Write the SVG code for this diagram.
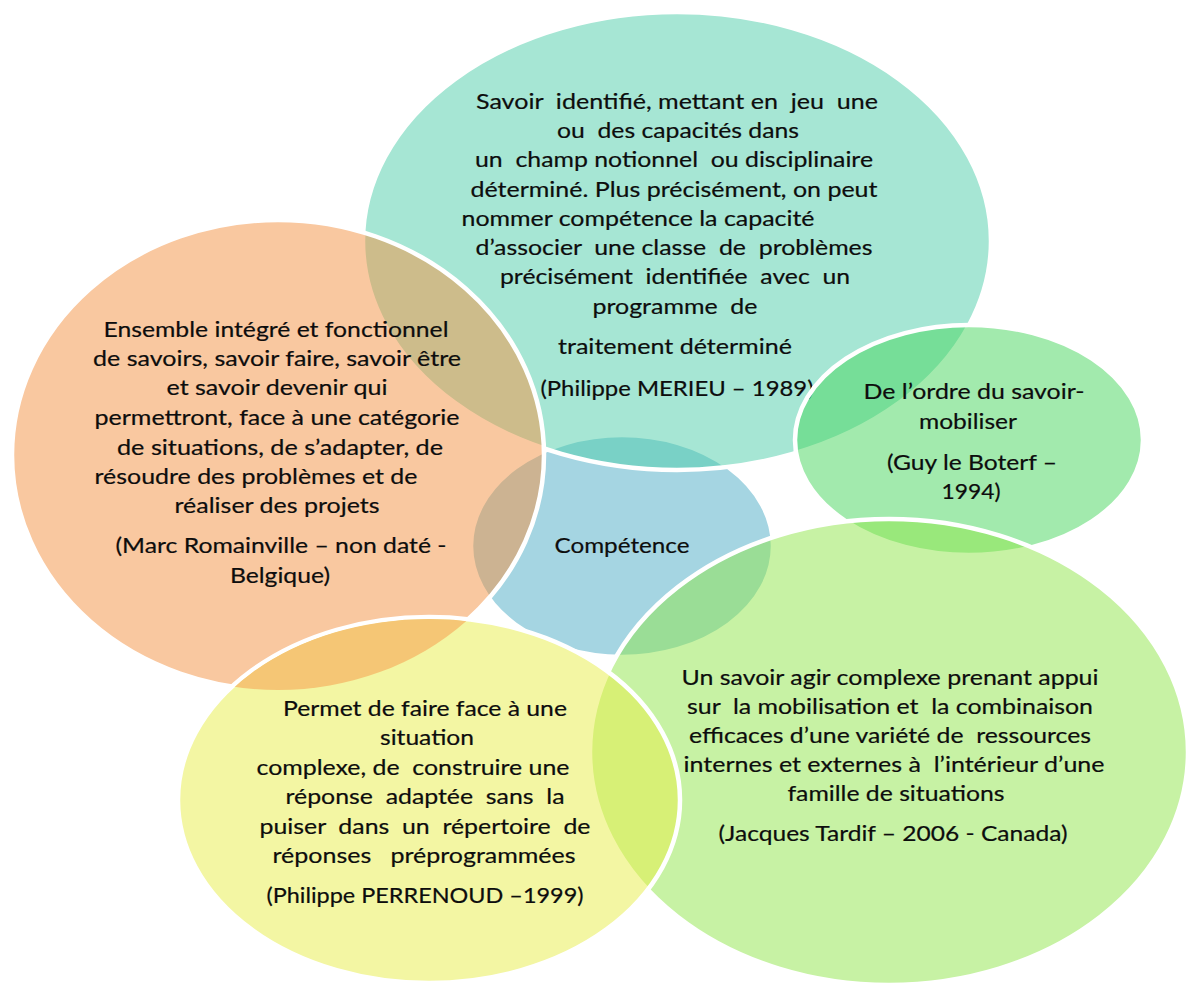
<svg xmlns="http://www.w3.org/2000/svg" width="1188" height="985" viewBox="0 0 1188 985">
<style>
.bub{stroke:#ffffff;stroke-width:4.5;fill-opacity:0.5}
.t{font-family:Lato,"Liberation Sans",sans-serif;font-size:22px;fill:#0d0d0d;stroke:#0d0d0d;stroke-width:0.2;text-anchor:middle}
</style>
<defs>
<clipPath id="clipOrange"><ellipse cx="278" cy="455" rx="266" ry="235"/></clipPath>
</defs>
<rect width="1188" height="985" fill="#ffffff"/>
<g id="competence">
<ellipse class="bub" cx="622" cy="546" rx="151" ry="111" fill="#4BABC5"/>
<text class="t" x="622" y="553" textLength="135" lengthAdjust="spacingAndGlyphs">Compétence</text>
</g>
<g id="meirieu">
<ellipse class="bub" cx="677" cy="241" rx="314" ry="229" fill="#4DCDA9"/>
<text class="t" xml:space="preserve" x="677" y="109" textLength="402" lengthAdjust="spacingAndGlyphs">Savoir  identifié, mettant en  jeu  une</text>
<text class="t" xml:space="preserve" x="678" y="138" textLength="242" lengthAdjust="spacingAndGlyphs">ou  des capacités dans</text>
<text class="t" xml:space="preserve" x="674" y="167" textLength="398" lengthAdjust="spacingAndGlyphs">un  champ notionnel  ou disciplinaire</text>
<text class="t" x="674" y="197" textLength="407" lengthAdjust="spacingAndGlyphs">déterminé. Plus précisément, on peut</text>
<text class="t" x="638" y="226" textLength="353" lengthAdjust="spacingAndGlyphs">nommer compétence la capacité</text>
<text class="t" xml:space="preserve" x="674" y="255" textLength="397" lengthAdjust="spacingAndGlyphs">d’associer  une classe  de  problèmes</text>
<text class="t" xml:space="preserve" x="675" y="284" textLength="350" lengthAdjust="spacingAndGlyphs">précisément  identifiée  avec  un</text>
<text class="t" xml:space="preserve" x="675" y="314" textLength="165" lengthAdjust="spacingAndGlyphs">programme  de</text>
<text class="t" x="675" y="354" textLength="234" lengthAdjust="spacingAndGlyphs">traitement déterminé</text>
<text class="t" x="677" y="396" textLength="273" lengthAdjust="spacingAndGlyphs">(Philippe MERIEU – 1989)</text>
</g>
<g id="boterf">
<ellipse class="bub" cx="969" cy="440" rx="174" ry="115" fill="#45D55B"/>
<text class="t" x="974" y="399" textLength="221" lengthAdjust="spacingAndGlyphs">De l’ordre du savoir-</text>
<text class="t" x="968" y="429" textLength="98" lengthAdjust="spacingAndGlyphs">mobiliser</text>
<text class="t" x="972" y="470" textLength="170" lengthAdjust="spacingAndGlyphs">(Guy le Boterf –</text>
<text class="t" x="971" y="499" textLength="59" lengthAdjust="spacingAndGlyphs">1994)</text>
</g>
<g id="tardif">
<ellipse class="bub" cx="889" cy="752" rx="299" ry="233" fill="#8FE549"/>
<text class="t" x="890" y="685" textLength="417" lengthAdjust="spacingAndGlyphs">Un savoir agir complexe prenant appui</text>
<text class="t" xml:space="preserve" x="890" y="714" textLength="406" lengthAdjust="spacingAndGlyphs">sur  la mobilisation et  la combinaison</text>
<text class="t" xml:space="preserve" x="890" y="743" textLength="402" lengthAdjust="spacingAndGlyphs">efficaces d’une variété de  ressources</text>
<text class="t" xml:space="preserve" x="894" y="772" textLength="421" lengthAdjust="spacingAndGlyphs">internes et externes à  l’intérieur d’une</text>
<text class="t" x="896" y="801" textLength="217" lengthAdjust="spacingAndGlyphs">famille de situations</text>
<text class="t" x="893" y="841" textLength="349" lengthAdjust="spacingAndGlyphs">(Jacques Tardif – 2006 - Canada)</text>
</g>
<g id="romainville">
<ellipse class="bub" cx="278" cy="455" rx="266" ry="235" fill="#F39141"/>
<text class="t" x="276" y="337" textLength="345" lengthAdjust="spacingAndGlyphs">Ensemble intégré et fonctionnel</text>
<text class="t" x="277" y="366" textLength="368" lengthAdjust="spacingAndGlyphs">de savoirs, savoir faire, savoir être</text>
<text class="t" x="277" y="395" textLength="221" lengthAdjust="spacingAndGlyphs">et savoir devenir qui</text>
<text class="t" x="277" y="425" textLength="365" lengthAdjust="spacingAndGlyphs">permettront, face à une catégorie</text>
<text class="t" x="280" y="455" textLength="326" lengthAdjust="spacingAndGlyphs">de situations, de s’adapter, de</text>
<text class="t" x="256" y="484" textLength="323" lengthAdjust="spacingAndGlyphs">résoudre des problèmes et de</text>
<text class="t" x="277" y="513" textLength="205" lengthAdjust="spacingAndGlyphs">réaliser des projets</text>
<text class="t" x="281" y="553" textLength="331" lengthAdjust="spacingAndGlyphs">(Marc Romainville – non daté -</text>
<text class="t" x="280" y="583" textLength="100" lengthAdjust="spacingAndGlyphs">Belgique)</text>
</g>
<g id="perrenoud">
<ellipse class="bub" cx="429" cy="800" rx="251" ry="183" fill="#E7ED47"/>
<ellipse cx="429" cy="800" rx="249" ry="181" fill="#F5C675" clip-path="url(#clipOrange)"/>
<text class="t" x="425" y="716" textLength="284" lengthAdjust="spacingAndGlyphs">Permet de faire face à une</text>
<text class="t" x="427" y="745" textLength="94" lengthAdjust="spacingAndGlyphs">situation</text>
<text class="t" xml:space="preserve" x="413" y="775" textLength="313" lengthAdjust="spacingAndGlyphs">complexe, de  construire une</text>
<text class="t" xml:space="preserve" x="425" y="804" textLength="279" lengthAdjust="spacingAndGlyphs">réponse  adaptée  sans  la</text>
<text class="t" xml:space="preserve" x="425" y="834" textLength="331" lengthAdjust="spacingAndGlyphs">puiser  dans  un  répertoire  de</text>
<text class="t" xml:space="preserve" x="424" y="863" textLength="303" lengthAdjust="spacingAndGlyphs">réponses   préprogrammées</text>
<text class="t" x="425" y="903" textLength="317" lengthAdjust="spacingAndGlyphs">(Philippe PERRENOUD –1999)</text>
</g>
</svg>
